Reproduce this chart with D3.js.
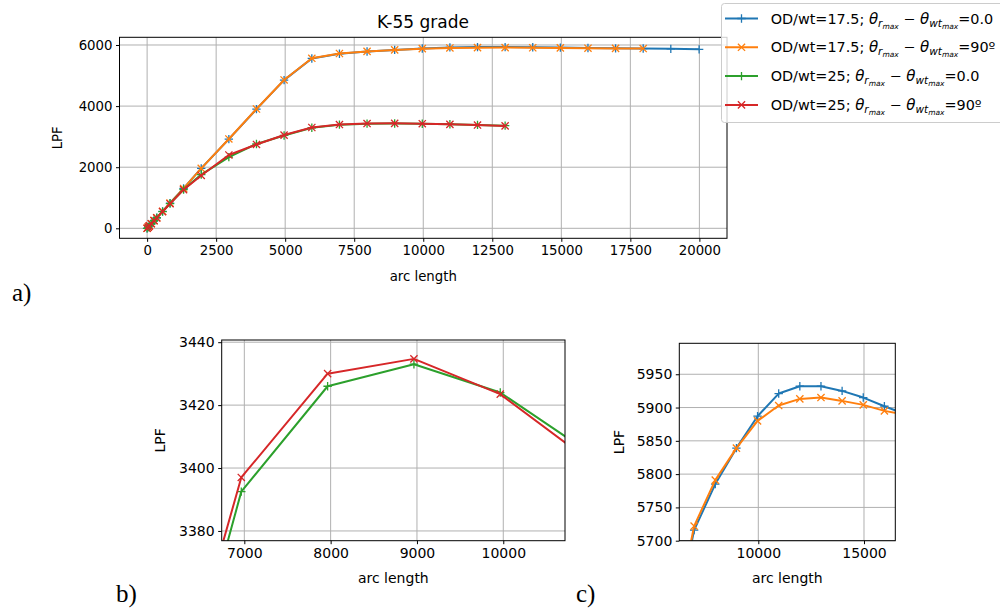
<!DOCTYPE html>
<html>
<head>
<meta charset="utf-8">
<script src="https://cdn.jsdelivr.net/npm/d3@7"></script>
<style>
body { margin: 0; background: #fff; }
text { font-family: "DejaVu Sans", sans-serif; fill: #000; }
</style>
</head>
<body>
<div id="chart"></div>
<script>
// arc length samples (shared by all runs, each run stops earlier or later)
const arcLength = [0, 40, 80, 150, 250, 350, 560, 830, 1320, 1960, 2960, 3960, 4960, 5965,
  6965, 7965, 8965, 9965, 10965, 11965, 12965, 13965, 14965, 15965, 16965, 17965, 18965, 19990];

// LPF values
const lpfOd175Deg0 = [0, 40, 80, 150, 250, 345, 555, 825, 1305, 1960, 2920, 3900, 4850, 5560,
  5716, 5785, 5839, 5887, 5921, 5932, 5932, 5925, 5915, 5902, 5890, 5884, 5874, 5858];
const lpfOd175Deg90 = [0, 40, 80, 150, 250, 345, 555, 825, 1305, 1960, 2925, 3905, 4855, 5565,
  5722, 5791, 5839, 5880, 5903, 5913, 5915, 5910, 5904, 5895, 5889, 5884];
const lpfOd25Deg0 = [0, 40, 80, 150, 250, 340, 545, 810, 1270, 1760, 2330, 2760, 3040, 3292,
  3392.5, 3426, 3433, 3424, 3405.5, 3385, 3360];
const lpfOd25Deg90 = [0, 40, 80, 150, 250, 340, 545, 805, 1265, 1730, 2400, 2745, 3052, 3300,
  3397, 3430, 3434.7, 3423.5, 3403, 3380, 3352];

const odLabels = ['17.5', '17.5', '25', '25'];
const angleLabels = ['0.0', '90º', '0.0', '90º'];

const topXTicks = [0, 2500, 5000, 7500, 10000, 12500, 15000, 17500, 20000];
const topYTicks = [0, 2000, 4000, 6000];
const bXTicks = [7000, 8000, 9000, 10000];
const bYTicks = [3380, 3400, 3420, 3440];
const cXTicks = [10000, 15000];
const cYTicks = [5700, 5750, 5800, 5850, 5900, 5950];

const series = [
  {y: lpfOd175Deg0, color: '#1f77b4', marker: 'plus'},
  {y: lpfOd175Deg90, color: '#ff7f0e', marker: 'x'},
  {y: lpfOd25Deg0, color: '#2ca02c', marker: 'plus'},
  {y: lpfOd25Deg90, color: '#d62728', marker: 'x'}
];

const svg = d3.select('#chart')
    .append('svg')
    .attr('width', 1000)
    .attr('height', 608);

const markerPath = {
  plus: 'M-4.2,0H4.2M0,-4.2V4.2',
  x: 'M-3.6,-3.6L3.6,3.6M-3.6,3.6L3.6,-3.6'
};

function panel(o) {
  const x = d3.scaleLinear().domain(o.xDomain).range([o.left, o.right]);
  const y = d3.scaleLinear().domain(o.yDomain).range([o.bottom, o.top]);
  const g = svg.append('g');

  g.append('clipPath')
      .attr('id', o.id)
    .append('rect')
      .attr('x', o.left)
      .attr('y', o.top)
      .attr('width', o.right - o.left)
      .attr('height', o.bottom - o.top);

  // grid
  g.append('g').selectAll('line')
      .data(o.xTicks)
      .join('line')
      .attr('x1', d => x(d)).attr('x2', d => x(d))
      .attr('y1', o.top).attr('y2', o.bottom)
      .attr('stroke', '#b0b0b0').attr('stroke-width', 1);
  g.append('g').selectAll('line')
      .data(o.yTicks)
      .join('line')
      .attr('y1', d => y(d)).attr('y2', d => y(d))
      .attr('x1', o.left).attr('x2', o.right)
      .attr('stroke', '#b0b0b0').attr('stroke-width', 1);

  const line = d3.line()
      .x(d => x(d[0]))
      .y(d => y(d[1]));

  series.forEach(s => {
    const pts = s.y.map((v, i) => [arcLength[i], v]);
    g.append('path')
        .datum(pts)
        .attr('clip-path', 'url(#' + o.id + ')')
        .attr('fill', 'none')
        .attr('stroke', s.color)
        .attr('stroke-width', 2)
        .attr('stroke-linejoin', 'round')
        .attr('d', line);
    g.append('g')
        .attr('clip-path', 'url(#' + o.id + ')')
      .selectAll('path')
      .data(pts)
      .join('path')
        .attr('d', markerPath[s.marker])
        .attr('transform', d => 'translate(' + x(d[0]) + ',' + y(d[1]) + ')')
        .attr('fill', 'none')
        .attr('stroke', s.color)
        .attr('stroke-width', 1.3);
  });

  g.append('rect')
      .attr('x', o.left).attr('y', o.top)
      .attr('width', o.right - o.left).attr('height', o.bottom - o.top)
      .attr('fill', 'none').attr('stroke', '#000').attr('stroke-width', 1);

  const xAxis = g.append('g')
      .attr('transform', 'translate(0,' + o.bottom + ')')
      .call(d3.axisBottom(x).tickValues(o.xTicks).tickFormat(d3.format('d'))
        .tickSize(3.5).tickPadding(3.5).tickSizeOuter(0));
  const yAxis = g.append('g')
      .attr('transform', 'translate(' + o.left + ',0)')
      .call(d3.axisLeft(y).tickValues(o.yTicks).tickFormat(d3.format('d'))
        .tickSize(3.5).tickPadding(3.5).tickSizeOuter(0));
  [xAxis, yAxis].forEach(a => {
    a.select('.domain').remove();
    a.selectAll('text').attr('font-family', '"DejaVu Sans", sans-serif')
        .attr('font-size', o.font).attr('fill', '#000');
    a.selectAll('line').attr('stroke', '#000');
  });

  g.append('text')
      .attr('x', (o.left + o.right) / 2)
      .attr('y', o.xLabelY)
      .attr('text-anchor', 'middle')
      .attr('font-size', o.font)
      .text('arc length');
  g.append('text')
      .attr('transform', 'translate(' + o.yLabelX + ',' + (o.top + o.bottom) / 2 + ') rotate(-90)')
      .attr('text-anchor', 'middle')
      .attr('dy', '0.35em')
      .attr('font-size', o.font)
      .text('LPF');
}

// a) full curves
panel({id: 'clipA', left: 119.5, right: 727, top: 37.3, bottom: 238.3,
  xDomain: [-1000, 21000], yDomain: [-327, 6252],
  xTicks: topXTicks, yTicks: topYTicks, font: 13.3, xLabelY: 281, yLabelX: 57});

// b) zoom on OD/wt=25 peak
panel({id: 'clipB', left: 221.7, right: 565, top: 340, bottom: 540.7,
  xDomain: [6738, 10715], yDomain: [3376.9, 3440.7],
  xTicks: bXTicks, yTicks: bYTicks, font: 14, xLabelY: 583, yLabelX: 160});

// c) zoom on OD/wt=17.5 peak
panel({id: 'clipC', left: 679.3, right: 895.3, top: 343.3, bottom: 540.7,
  xDomain: [6263, 16481], yDomain: [5700, 5996.5],
  xTicks: cXTicks, yTicks: cYTicks, font: 14, xLabelY: 583, yLabelX: 619});

svg.append('text')
    .attr('x', 423)
    .attr('y', 28)
    .attr('text-anchor', 'middle')
    .attr('font-size', 17)
    .text('K-55 grade');

// legend
const legend = svg.append('g');
legend.append('rect')
    .attr('x', 721.5).attr('y', 3.5)
    .attr('width', 320).attr('height', 119)
    .attr('rx', 3)
    .attr('fill', '#fff').attr('fill-opacity', 0.8)
    .attr('stroke', '#cccccc').attr('stroke-width', 1);

series.forEach((s, i) => {
  const ly = 18.5 + i * 28.8;
  legend.append('line')
      .attr('x1', 725).attr('x2', 758)
      .attr('y1', ly).attr('y2', ly)
      .attr('stroke', s.color).attr('stroke-width', 2);
  legend.append('path')
      .attr('d', markerPath[s.marker])
      .attr('transform', 'translate(741.5,' + ly + ')')
      .attr('fill', 'none').attr('stroke', s.color).attr('stroke-width', 1.3);

  const t = legend.append('text')
      .attr('x', 770.7).attr('y', ly + 5)
      .attr('font-size', 14.4)
      .style('white-space', 'pre');
  t.append('tspan').text('OD/wt=' + odLabels[i] + '; ');
  t.append('tspan').attr('font-style', 'italic').attr('font-size', 15).text('θ');
  t.append('tspan').attr('font-style', 'italic').attr('font-size', 10.5).attr('dy', 3).text('r');
  t.append('tspan').attr('font-style', 'italic').attr('font-size', 7.5).attr('dy', 2).text('max');
  t.append('tspan').attr('dy', -5).text(' − ');
  t.append('tspan').attr('font-style', 'italic').attr('font-size', 15).text('θ');
  t.append('tspan').attr('font-style', 'italic').attr('font-size', 10.5).attr('dy', 3).text('wt');
  t.append('tspan').attr('font-style', 'italic').attr('font-size', 7.5).attr('dy', 2).text('max');
  t.append('tspan').attr('dy', -5).text('=' + angleLabels[i]);
});

// panel labels
[['a)', 12, 301], ['b)', 116, 602], ['c)', 576, 602]].forEach(l => {
  svg.append('text')
      .attr('x', l[1]).attr('y', l[2])
      .style('font-family', '"Liberation Serif", serif')
      .attr('font-size', 25)
      .text(l[0]);
});
</script>
</body>
</html>
